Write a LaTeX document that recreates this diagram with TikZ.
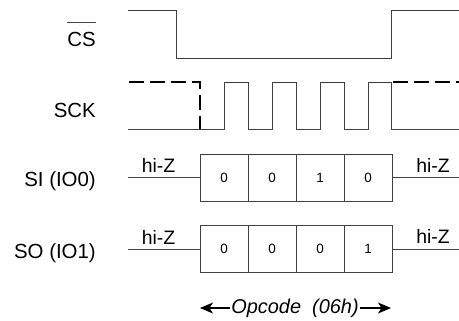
\documentclass[tikz,border=0pt]{standalone}
\usepackage{fontspec}
\setmainfont{Liberation Sans}
\usetikzlibrary{arrows.meta}
\begin{document}
\begin{tikzpicture}[x=1bp,y=-1bp,
  wave/.style={draw=black!75,line width=1bp},
  dashwave/.style={draw=black,line width=2.6bp,dash pattern=on 15bp off 6bp},
  lbl/.style={anchor=base east,inner sep=0,font=\fontsize{20.5}{20.5}\selectfont},
  hiz/.style={anchor=base,inner sep=0,font=\fontsize{19.5}{19.5}\selectfont},
  bit/.style={draw=black!75,line width=1bp,minimum width=48bp,minimum height=47bp,inner sep=0,font=\fontsize{13.5}{13.5}\selectfont},
  oparrow/.style={draw=black,line width=1.2bp,-{Stealth[length=13bp,width=11bp,inset=3.5bp]}},
]
\useasboundingbox (0,0) rectangle (459,320);
% labels
\node[lbl] (cs) at (96,46) {CS};
\draw[wave] (cs.west |- 0,22) -- (cs.east |- 0,22);
\node[lbl] (sck) at (96,117) {SCK};
\node[lbl] (si) at (96,186.5) {SI (IO0)};
\node[lbl] (so) at (96,258) {SO (IO1)};
% CS waveform
\draw[wave] (128,10) -- (176,10) -- (176,58) -- (391,58) -- (391,10) -- (459,10);
% SCK waveform
\draw[wave] (128,129) -- (224,129) -- (224,82) -- (248,82) -- (248,129) -- (272,129) -- (272,82) -- (296,82) -- (296,129) -- (320,129) -- (320,82) -- (344,82) -- (344,129) -- (368,129) -- (368,82) -- (391,82) -- (391,129) -- (459,129);
\draw[dashwave] (129,82) -- (200,82) -- (200,129);
\draw[dashwave] (393,82) -- (459,82);
% SI
\node[bit] (si1) at (224,177.5) {0};
\node[bit] (si2) at (272,177.5) {0};
\node[bit] (si3) at (320,177.5) {1};
\node[bit] (si4) at (368,177.5) {0};
\coordinate (sil) at (128,177);
\coordinate (sir) at (459,177);
\draw[wave] (sil) -- (si1.west |- sil);
\draw[wave] (si4.east |- sir) -- (sir);
\node[hiz] (sihl) at (158.5,172.5) {hi-Z};
\node[hiz] (sihr) at (433,172) {hi-Z};
% SO
\node[bit] (so1) at (224,249) {0};
\node[bit] (so2) at (272,249) {0};
\node[bit] (so3) at (320,249) {0};
\node[bit] (so4) at (368,249) {1};
\coordinate (sol) at (128,249);
\coordinate (sor) at (459,249);
\draw[wave] (sol) -- (so1.west |- sol);
\draw[wave] (so4.east |- sor) -- (sor);
\node[hiz] (sohl) at (158.5,244) {hi-Z};
\node[hiz] (sohr) at (433,243.5) {hi-Z};
% Opcode
\node[anchor=base,inner sep=1bp,font=\fontsize{20}{20}\selectfont\itshape] (op) at (295,313) {Opcode\ \ (06h)};
\coordinate (opl) at (200,308);
\coordinate (opr) at (391,308);
\draw[oparrow] (op.west |- opl) -- (opl);
\draw[oparrow] (op.east |- opr) -- (opr);
\end{tikzpicture}
\end{document}
